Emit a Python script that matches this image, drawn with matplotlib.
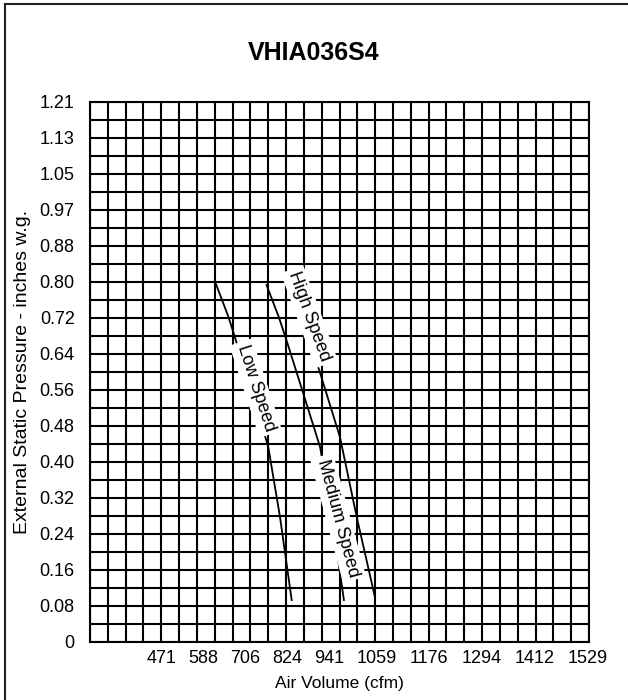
import matplotlib
matplotlib.use("Agg")
import matplotlib.pyplot as plt
import numpy as np
from matplotlib.lines import Line2D

plt.rcParams['font.family'] = ['Liberation Sans', 'DejaVu Sans']

# ---- data ----
title = "VHIA036S4"
x_max = 1529
y_max = 1.21
n_cols = 28
n_rows = 30

y_tick_labels = ["0", "0.08", "0.16", "0.24", "0.32", "0.40", "0.48", "0.56",
                 "0.64", "0.72", "0.80", "0.88", "0.97", "1.05", "1.13", "1.21"]
x_tick_labels = ["471", "588", "706", "824", "941", "1059", "1176", "1294", "1412", "1529"]
# positions (axis units) where the reference prints the x labels
x_tick_pos = [220, 347, 477, 604, 734, 879, 1039, 1200, 1361, 1526]

low_x = [386, 424, 444, 495, 546, 582, 618]
low_y = [0.802, 0.729, 0.683, 0.560, 0.438, 0.281, 0.094]
med_x = [541, 579, 600, 653, 705, 742, 778]
med_y = [0.800, 0.727, 0.681, 0.558, 0.437, 0.278, 0.094]
high_x = [604, 653, 705, 766, 817, 873]
high_y = [0.829, 0.717, 0.603, 0.459, 0.281, 0.101]

labels = ["Low Speed", "Medium Speed", "High Speed"]
label_x = [508, 760, 672]
label_y = [0.569, 0.278, 0.729]
label_rot = [-72, -75, -70]

# ---- figure ----
fig = plt.figure(figsize=(6.28, 7.0), dpi=100)
ax = fig.add_axes([90/628, 1-642/700, 499/628, 540/700])
ax.set_xlim(0, x_max)
ax.set_ylim(0, y_max)

for xv in np.linspace(0, x_max, n_cols + 1):
    ax.axvline(xv, color='black', lw=1.5, zorder=1)
for yv in np.linspace(0, y_max, n_rows + 1):
    ax.axhline(yv, color='black', lw=1.5, zorder=1)
for s in ax.spines.values():
    s.set_linewidth(1.5)

for xs, ys in [(low_x, low_y), (med_x, med_y), (high_x, high_y)]:
    ax.plot(xs, ys, color='black', lw=1.3, zorder=2)

for t, lx, ly, r in zip(labels, label_x, label_y, label_rot):
    ax.text(lx, ly, t, rotation=r, rotation_mode='anchor', ha='center', va='center',
            fontsize=13, zorder=5,
            bbox=dict(facecolor='white', edgecolor='none', pad=2.5))

ax.set_yticks(np.linspace(0, y_max, len(y_tick_labels)))
ax.set_yticklabels(y_tick_labels)
ax.set_xticks(x_tick_pos)
ax.set_xticklabels(x_tick_labels)
ax.tick_params(length=0, labelsize=13)
ax.tick_params(axis='y', pad=11)
ax.tick_params(axis='x', pad=6)
ax.set_xlabel("Air Volume (cfm)", fontsize=12.5, labelpad=6)
ax.set_ylabel("External Static Pressure - inches w.g.", fontsize=14, labelpad=6)

fig.text(314/628, 1-53/700, title, ha='center', va='center', fontsize=18, fontweight='bold')

# outer frame (left and top edges visible)
fig.add_artist(Line2D([5/628, 5/628], [0, 1-4/700], transform=fig.transFigure, color='#222222', lw=1.5))
fig.add_artist(Line2D([5/628, 1], [1-4/700, 1-4/700], transform=fig.transFigure, color='#222222', lw=1.5))

fig.savefig("out.png", dpi=100)
